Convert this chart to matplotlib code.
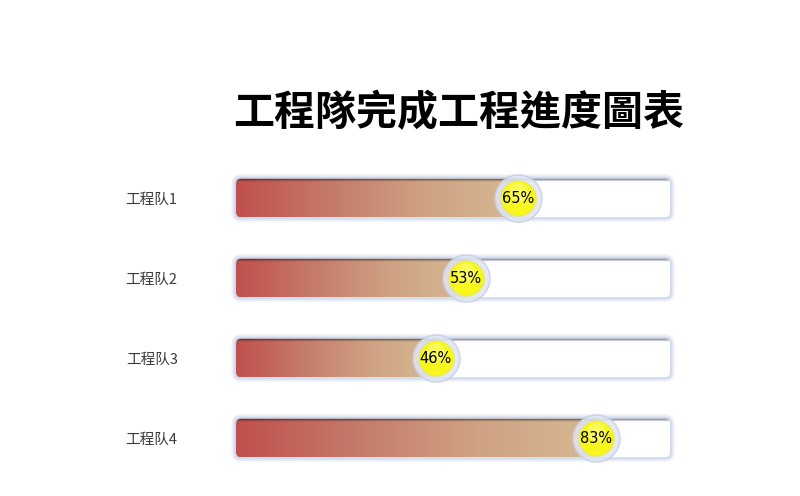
import numpy as np
import matplotlib
matplotlib.use("Agg")
import matplotlib.pyplot as plt
from matplotlib.patches import FancyBboxPatch
from matplotlib.colors import LinearSegmentedColormap

# data
teams = ["工程队1", "工程队2", "工程队3", "工程队4"]
progress = [65, 53, 46, 83]
title = "工程隊完成工程進度圖表"

plt.rcParams["font.family"] = ["Noto Sans CJK SC", "DejaVu Sans"]

fig = plt.figure(figsize=(8, 4.96), dpi=100)
ax = fig.add_axes([236 / 800, 18 / 496, 434 / 800, 320 / 496])
ax.set_xlim(0, 100)
ax.set_ylim(len(teams) - 0.5, -0.5)
for s in ax.spines.values():
    s.set_visible(False)
ax.set_xticks([])
ax.set_yticks(range(len(teams)))
ax.set_yticklabels(teams, fontsize=10.5, color="#3a3a3a")
ax.tick_params(axis="y", length=0, pad=42)

h = 0.48
px_x, px_y = 100 / 434, 1 / 80   # data units per pixel
asp = px_y / px_x
fill_cmap = LinearSegmentedColormap.from_list("fill", ["#c0504d", "#c57a6a", "#cfa283", "#d5b894"])
shade = np.zeros((60, 2, 4))
t = np.linspace(0, 1, 60)
shade[..., 3] = (np.clip(1 - t / 0.09, 0, 1) ** 1.2 * 0.65)[:, None]
grad = np.linspace(0, 1, 256)[None, :]

for i, v in enumerate(progress):
    # outer glow
    for k, a in [(5, 0.18), (3.5, 0.35), (2, 0.6)]:
        ax.add_patch(FancyBboxPatch((-k * px_x, i - h / 2 - k * px_y), 100 + 2 * k * px_x, h + 2 * k * px_y,
                                    boxstyle=f"round,pad=0,rounding_size={(5 + k) * px_x}",
                                    mutation_aspect=asp, fc="#c6d2ea", ec="none", alpha=a,
                                    zorder=1, clip_on=False))
    track = FancyBboxPatch((0, i - h / 2), 100, h, boxstyle=f"round,pad=0,rounding_size={5 * px_x}",
                           mutation_aspect=asp, fc="white", ec="none", zorder=2, clip_on=False)
    ax.add_patch(track)
    im = ax.imshow(grad, cmap=fill_cmap, aspect="auto", extent=(0, v, i + h / 2, i - h / 2),
                   zorder=3, interpolation="bilinear")
    im.set_clip_path(track)
    sh = ax.imshow(shade, aspect="auto", extent=(0, 100, i + h / 2, i - h / 2), zorder=4,
                   interpolation="bilinear")
    sh.set_clip_path(track)

    # knob with percentage
    ax.scatter([v], [i], s=1150, c="#dfe5f2", edgecolors="#c3cde2", linewidths=1.0, alpha=0.85, zorder=5)
    ax.scatter([v], [i], s=640, c="#f7f71e", edgecolors="#e6e66a", linewidths=0.8, zorder=6)
    ax.scatter([v], [i - 0.07], s=180, c="#ffffa0", edgecolors="none", alpha=0.45, zorder=6)
    ax.text(v, i + 0.01, f"{v}%", ha="center", va="center", fontsize=10.5,
            family="DejaVu Sans", color="black", zorder=7)

fig.text(459 / 800, 1 - 113 / 496, title, ha="center", va="center", fontsize=29.5,
         family=["Noto Sans CJK TC", "DejaVu Sans"], weight="heavy", color="black")

fig.savefig("out.png", dpi=100)
